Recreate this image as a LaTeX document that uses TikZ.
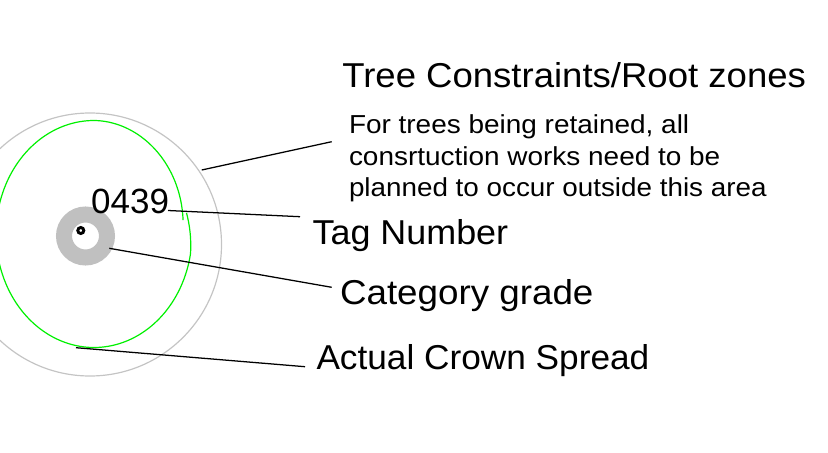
\documentclass[tikz,border=0pt]{standalone}
\usepackage{fontspec}
\setmainfont{Liberation Sans}
\definecolor{ringgrey}{HTML}{C0C0C0}
\definecolor{zonegrey}{HTML}{C4C4C4}
\definecolor{crowngreen}{HTML}{00F000}
\begin{document}
\begin{tikzpicture}[x=0.75pt,y=-0.75pt,
  declare function={crs(\t)=1-0.038*max(0,(10-\t)/21.1)-0.083*(max(0,\t-270)/82.3)^1.5;},
  lead/.style={black,line width=0.95pt},
  bigtxt/.style={inner sep=0pt,outer sep=0pt,anchor=base west,font=\fontsize{25.9pt}{30pt}\selectfont},
  smalltxt/.style={inner sep=0pt,outer sep=0pt,anchor=base west,font=\fontsize{19.5pt}{23.8pt}\selectfont},
  tagtxt/.style={inner sep=0pt,outer sep=0pt,anchor=base west,font=\fontsize{26.25pt}{30pt}\selectfont}]
\useasboundingbox (0,0) rectangle (828,453);
% root zone circle
\draw[zonegrey,line width=0.9pt] (90,244.5) circle[radius=131.5];
% crown spread
\draw[crowngreen,line width=0.9pt] plot[domain=-11.1:352.3,samples=240,smooth]
  ({94+98*crs(\x)*cos(\x)},{234+113.5*crs(\x)*sin(\x)});
% category grade ring
\draw[ringgrey,line width=12pt] (85.5,236) circle[radius=21.5];
% trunk marker
\draw[black,line width=2.2pt] (80.8,230.5) circle[radius=3];
% texts
\node[tagtxt] (tag) at (91.2,213) {0439};
\node[bigtxt] (title) at (342.3,87.5) {\scalebox{1.058}[1]{Tree Constraints/Root zones}};
\node[smalltxt] (d1) at (349,133.3) {\scalebox{1.075}[1]{For trees being retained, all}};
\node[smalltxt] (d2) at (349,165) {\scalebox{1.075}[1]{consrtuction works need to be}};
\node[smalltxt] (d3) at (349,196.7) {\scalebox{1.07}[1]{planned to occur outside this area}};
\node[bigtxt] (tagl) at (312.6,244) {\scalebox{1.04}[1]{Tag Number}};
\node[bigtxt] (catl) at (340,304) {\scalebox{1.065}[1]{Category grade}};
\node[bigtxt] (crownl) at (316.5,369.3) {\scalebox{1.02}[1]{Actual Crown Spread}};
% leader end points
\coordinate (zoneP) at (201.7,170);
\coordinate (zoneQ) at (331.7,141.7);
\coordinate (tagP) at (168,210.5);
\coordinate (tagQ) at (300,216.7);
\coordinate (catP) at (109.3,248.3);
\coordinate (catQ) at (331.7,287.3);
\coordinate (crP) at (76,347.7);
\coordinate (crQ) at (305,366.7);
\draw[lead] (zoneP) -- (zoneQ);
\draw[lead] (tagP) -- (tagQ);
\draw[lead] (catP) -- (catQ);
\draw[lead] (crP) -- (crQ);
\end{tikzpicture}
\end{document}
